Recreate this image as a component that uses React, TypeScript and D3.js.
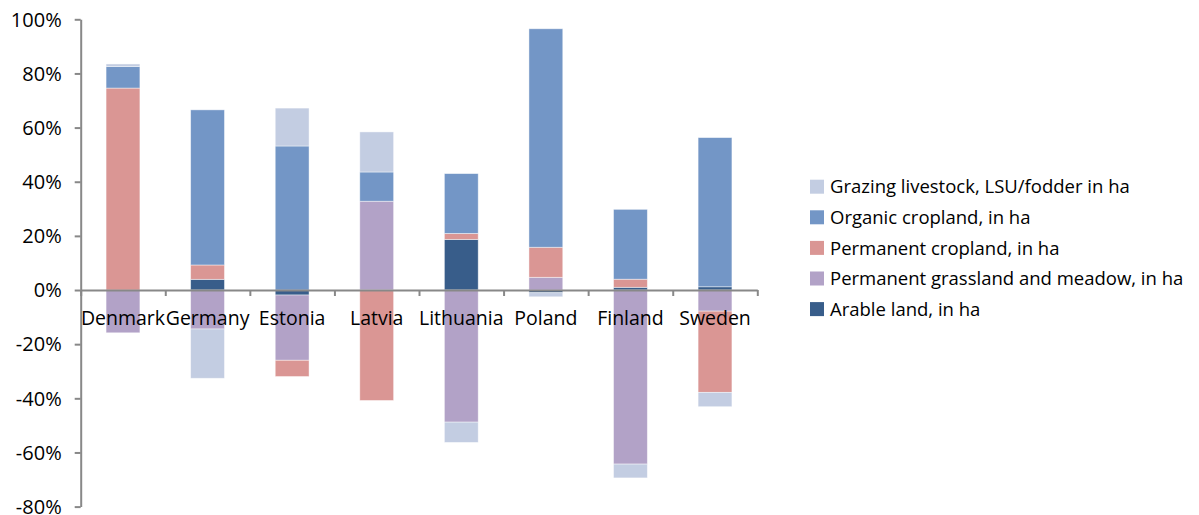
import React, { useEffect, useRef } from "react";
import * as d3 from "d3";

// Change by country, share of the reference value (in %)
const countries = ["Denmark", "Germany", "Estonia", "Latvia", "Lithuania", "Poland", "Finland", "Sweden"];

const arableLand = [0, 3.95, -1.85, 0, 18.7, -1.0, 1.0, 1.2];
const permanentGrassland = [-15.8, -14.4, -24.1, 32.8, -48.8, 4.7, -64.3, -7.8];
const permanentCropland = [74.6, 5.3, -6.0, -40.8, 2.2, 11.1, 3.0, -30.0];
const organicCropland = [8.0, 57.3, 53.2, 10.8, 22.1, 80.7, 25.8, 55.1];
const grazingLivestock = [0.9, -18.2, 14.0, 14.8, -7.5, -1.5, -5.1, -5.3];

const yTicks = [-80, -60, -40, -20, 0, 20, 40, 60, 80, 100];

const seriesDefs = [
  { key: "arable", label: "Arable land, in ha", values: arableLand, color: "#385D8A" },
  { key: "grassland", label: "Permanent grassland and meadow, in ha", values: permanentGrassland, color: "#B2A2C7" },
  { key: "permcrop", label: "Permanent cropland, in ha", values: permanentCropland, color: "#DA9694" },
  { key: "organic", label: "Organic cropland, in ha", values: organicCropland, color: "#7396C6" },
  { key: "grazing", label: "Grazing livestock, LSU/fodder in ha", values: grazingLivestock, color: "#C3CDE2" },
];

const W = 1199;
const H = 515;
const plot = { left: 80.7, right: 757.3, top: 19.3, bottom: 506.6 };
const FONT = "'Open Sans', 'DejaVu Sans', sans-serif";
const AXIS_COLOR = "#888888";

export default function App() {
  const yAxisRef = useRef<SVGGElement>(null);
  const xAxisRef = useRef<SVGGElement>(null);

  const x = d3.scaleBand<string>().domain(countries).range([plot.left, plot.right]).padding(0);
  const y = d3.scaleLinear().domain([-80, 100]).range([plot.bottom, plot.top]);
  const boundaries = d3.scaleLinear().domain([0, countries.length]).range([plot.left, plot.right]);
  const barW = x.bandwidth() * 0.4;

  const table = countries.map((c, i) => {
    const row: Record<string, any> = { country: c };
    seriesDefs.forEach((s) => (row[s.key] = s.values[i]));
    return row;
  });
  const stacked = d3
    .stack<Record<string, any>>()
    .keys(seriesDefs.map((s) => s.key))
    .offset(d3.stackOffsetDiverging)(table);

  useEffect(() => {
    if (yAxisRef.current) {
      const g = d3.select(yAxisRef.current);
      g.selectAll("*").remove();
      g.call(
        d3
          .axisLeft(y)
          .tickValues(yTicks)
          .tickSize(6)
          .tickSizeOuter(0)
          .tickPadding(13)
          .tickFormat((v) => `${v}%`)
      );
      g.select(".domain").attr("stroke", AXIS_COLOR).attr("stroke-width", 2);
      g.selectAll(".tick line").attr("stroke", AXIS_COLOR).attr("stroke-width", 2);
      g.selectAll(".tick text")
        .attr("fill", "#000")
        .attr("font-family", FONT)
        .attr("font-size", 20)
        .attr("dy", "0.34em");
    }
    if (xAxisRef.current) {
      const g = d3.select(xAxisRef.current);
      g.selectAll("*").remove();
      g.call(
        d3
          .axisBottom(boundaries)
          .ticks(countries.length)
          .tickSize(6)
          .tickSizeOuter(0)
          .tickFormat(() => "")
      );
      g.select(".domain").attr("stroke", AXIS_COLOR).attr("stroke-width", 2);
      g.selectAll(".tick line").attr("stroke", AXIS_COLOR).attr("stroke-width", 2);
    }
  }, []);

  const legendOrder = [...seriesDefs].reverse();

  return (
    <svg
      width={W}
      height={H}
      style={{ position: "absolute", left: 0, top: 0, background: "#fff" }}
    >
      <rect x={0} y={0} width={W} height={H} fill="#fff" />
      <g>
        {stacked.map((layer, li) => (
          <g key={layer.key} fill={seriesDefs[li].color}>
            {layer.map((d, i) => {
              const y0 = y(d[0]);
              const y1 = y(d[1]);
              const h = Math.abs(y0 - y1);
              if (h < 0.01) return null;
              return (
                <rect
                  key={countries[i]}
                  x={(x(countries[i]) as number) + (x.bandwidth() - barW) / 2}
                  y={Math.min(y0, y1)}
                  width={barW}
                  height={h}
                  stroke="#ffffff"
                  strokeOpacity={0.55}
                  strokeWidth={0.8}
                />
              );
            })}
          </g>
        ))}
      </g>
      <g ref={yAxisRef} transform={`translate(${plot.left},0)`} />
      <g ref={xAxisRef} transform={`translate(0,${y(0)})`} />
      <g fontFamily={FONT} fontSize={19.5} fill="#000" textAnchor="middle">
        {countries.map((c) => (
          <text key={c} x={(x(c) as number) + x.bandwidth() / 2} y={325}>
            {c}
          </text>
        ))}
      </g>
      <g fontFamily={FONT} fontSize={18.5} fill="#000">
        {legendOrder.map((s, i) => {
          const cy = 186.7 + i * 30.6;
          return (
            <g key={s.key}>
              <rect x={810} y={cy - 7} width={14} height={14} fill={s.color} />
              <text x={830} y={cy} dy="0.36em">
                {s.label}
              </text>
            </g>
          );
        })}
      </g>
    </svg>
  );
}
